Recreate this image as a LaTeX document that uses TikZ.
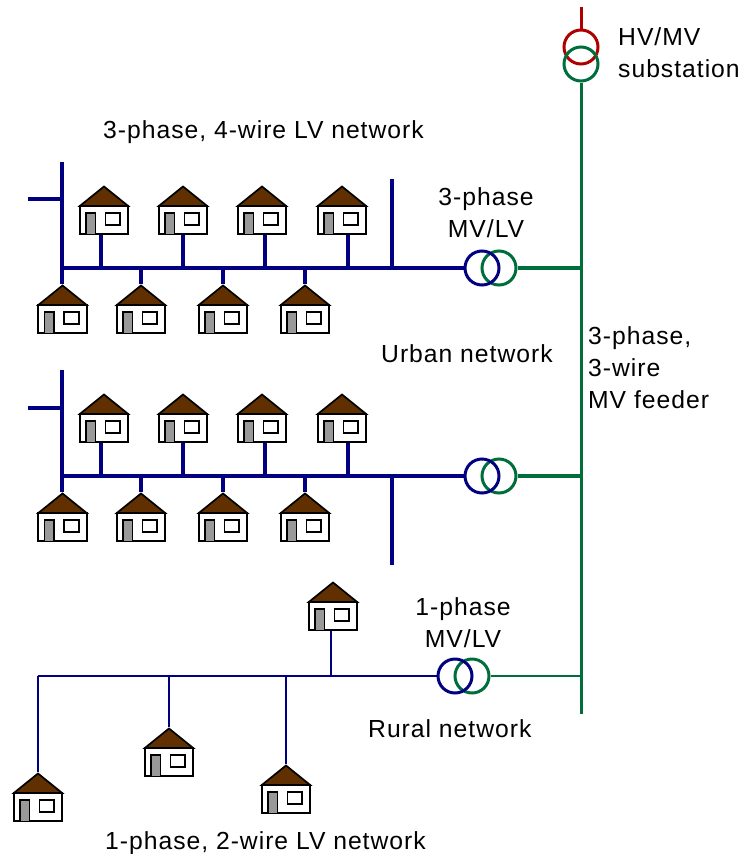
\documentclass[tikz,border=0pt]{standalone}
\usepackage{fontspec}
\setmainfont[LetterSpace=4]{Liberation Sans}
\definecolor{lvblue}{RGB}{0,0,128}
\definecolor{mvgreen}{RGB}{0,110,60}
\definecolor{hvred}{RGB}{175,0,0}
\definecolor{roofbrown}{RGB}{96,48,0}
\definecolor{doorgray}{RGB}{153,153,153}
\tikzset{
  lbl/.style={inner sep=0pt,font=\fontsize{24.7}{32}\selectfont},
  trafo/.style={circle,draw,line width=3pt,minimum size=34pt,inner sep=0pt},
  lvline/.style={draw=lvblue,line width=3.5pt},
  lvthin/.style={draw=lvblue,line width=1.5pt},
  mvline/.style={draw=mvgreen,line width=3.5pt},
  mvthin/.style={draw=mvgreen,line width=1.5pt},
  house/.pic={
    \draw [fill=white,line width=1.7pt] (-24.2,21) rectangle (24.2,49.2);
    \draw [fill=roofbrown,line width=1.7pt] (-24.2,21) -- (0,1.5) -- (24.2,21) -- cycle;
    \draw [fill=doorgray,line width=1.7pt] (-18,49.2) -- (-18,28) -- (-8.5,28) -- (-8.5,49.2);
    \draw [fill=white,line width=1.7pt] (1.5,28) rectangle (16.2,40);
    \coordinate (-top) at (0,0);
    \coordinate (-base) at (0,50);
  }
}
\begin{document}
\begin{tikzpicture}[x=1pt,y=-1pt]
\useasboundingbox (0,0) rectangle (743,854);

% HV/MV substation
\coordinate (hvin) at (581,7);
\node [trafo,draw=hvred] (subhv) at (581,47) {};
\node [trafo,draw=mvgreen] (submv) at (581,64) {};
\coordinate (feedend) at (581,714);
\draw [draw=hvred,line width=3pt] (hvin) -- (subhv);
\draw [draw=mvgreen,line width=3pt] (submv) -- (feedend);

% Urban networks: the second one has its long riser below the bus
\foreach \net/\ybus/\ytop/\ystub/\yriser in {a/268/162/199/179,b/476/370/408/565}{
  \node [trafo,draw=mvgreen] (\net mv) at (499,\ybus) {};
  \node [trafo,draw=lvblue] (\net lv) at (482,\ybus) {};
  \coordinate (\net feed) at (581,\ybus);
  \coordinate (\net end) at (62,\ybus);
  \coordinate (\net top) at (62,\ytop);
  \coordinate (\net stubl) at (28,\ystub);
  \coordinate (\net stubr) at (62,\ystub);
  \coordinate (\net rise) at (392,\ybus);
  \coordinate (\net riseend) at (392,\yriser);
  \draw [mvline] (\net mv) -- (\net feed);
  \draw [lvline] (\net lv) -- (\net end);
  \draw [lvline] (\net top) -- (62,\ybus+16);
  \draw [lvline] (\net stubl) -- (\net stubr);
  \draw [lvline] (\net rise) -- (\net riseend);
  % upper row of houses
  \foreach \n/\xh/\xj in {1/104/101,2/183/183,3/262/265,4/342/348}{
    \coordinate (\net j\n) at (\xj,\ybus);
    \pic (\net u\n) at (\xh,\ybus-83) {house};
    \draw [lvline] (\net j\n) -- (\net j\n |- \net u\n-base);
  }
  % lower row of houses
  \foreach \n/\xh in {1/62.5,2/141,3/223,4/305}{
    \coordinate (\net k\n) at (\xh,\ybus);
    \draw [lvline] (\net k\n) -- (\xh,\ybus+16);
    \pic (\net d\n) at (\xh,\ybus+16) {house};
  }
}

% Rural network
\node [trafo,draw=mvgreen] (rmv) at (472,676) {};
\node [trafo,draw=lvblue] (rlv) at (455,676) {};
\coordinate (rfeed) at (581,676);
\coordinate (rend) at (38,676);
\draw [mvthin] (rmv) -- (rfeed);
\draw [lvthin] (rlv) -- (rend);
\foreach \n/\xh/\yh/\xj in {1/38/772/38,2/169/727/169,3/286/764/286}{
  \coordinate (rj\n) at (\xj,676);
  \draw [lvthin] (rj\n) -- (\xj,\yh);
  \pic (rh\n) at (\xh,\yh) {house};
}
\pic (rh4) at (333,581) {house};
\coordinate (rj4) at (331,676);
\draw [lvthin] (rj4) -- (rj4 |- rh4-base);

% Text Node
\node [lbl,align=left,anchor=west] (tsub) at (618,53) {HV/MV\\substation};
\node [lbl,anchor=west] (tlv3) at (103,132) {3-phase, 4-wire LV network};
\node [lbl,align=center] (tmva) at (486,213) {3-phase\\MV/LV};
\node [lbl,anchor=west] (turban) at (381,354) {Urban network};
\node [lbl,align=left,anchor=west] (tfeeder) at (588,367.5) {3-phase,\\3-wire\\MV feeder};
\node [lbl,align=center] (tmvr) at (463,622.5) {1-phase\\MV/LV};
\node [lbl,anchor=west] (trural) at (368,729) {Rural network};
\node [lbl,anchor=west] (tlv1) at (105,843) {1-phase, 2-wire LV network};
\end{tikzpicture}
\end{document}
